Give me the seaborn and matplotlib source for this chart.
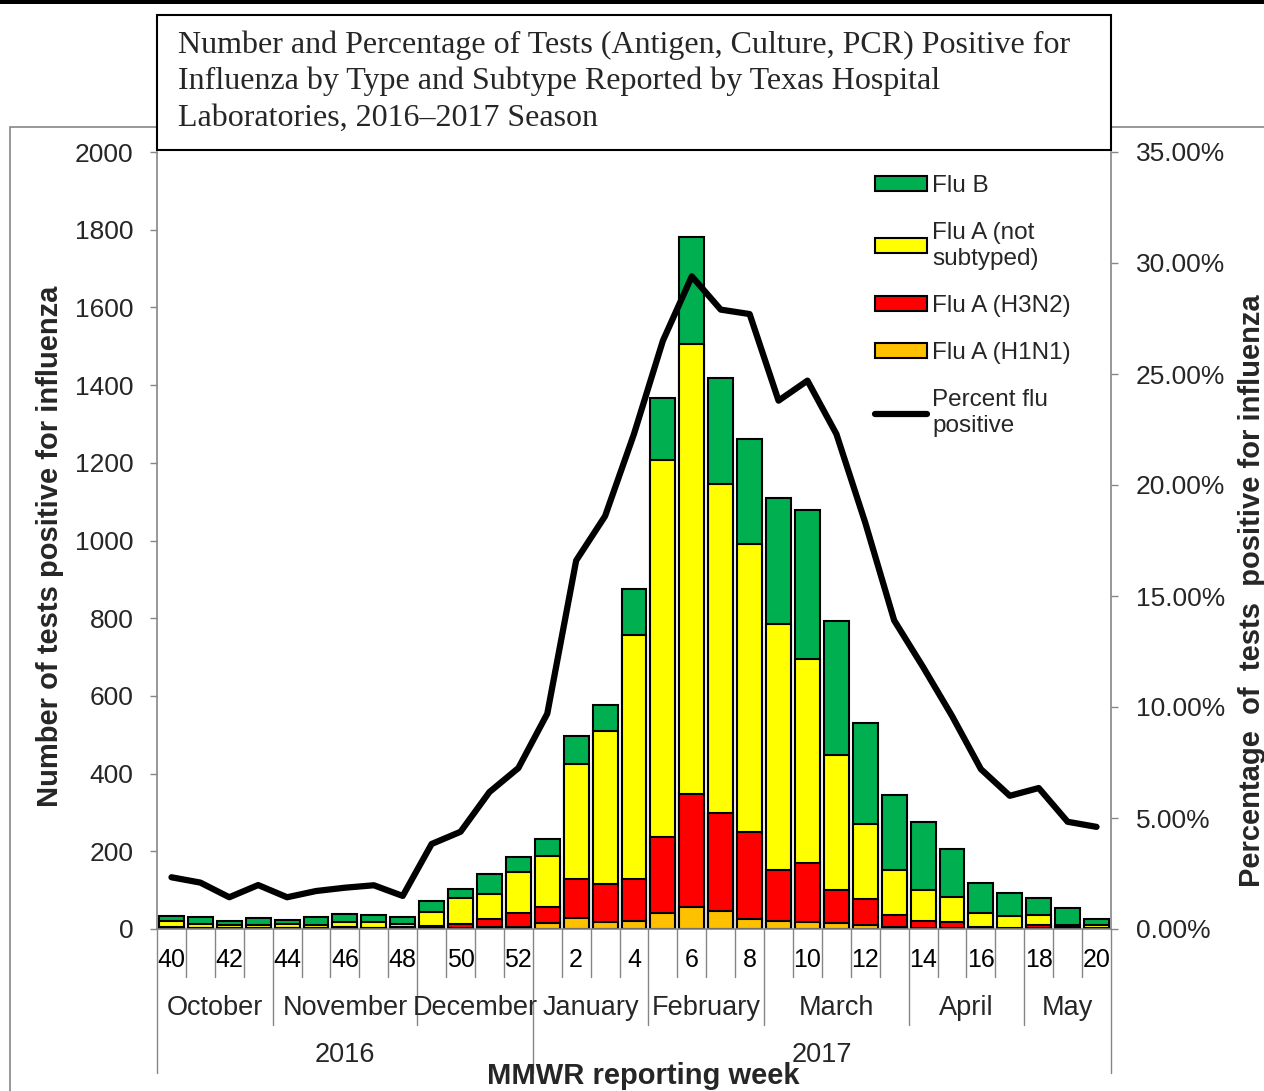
import numpy as np
import pandas as pd
import matplotlib
matplotlib.use("Agg")
import matplotlib.pyplot as plt
import seaborn as sns
from matplotlib.patches import Patch, Rectangle
from matplotlib.lines import Line2D
from matplotlib.ticker import FuncFormatter

# MMWR weeks, 2016-40 .. 2017-20
weeks = ["40", "41", "42", "43", "44", "45", "46", "47", "48", "49", "50", "51", "52",
         "1", "2", "3", "4", "5", "6", "7", "8", "9", "10", "11", "12", "13", "14",
         "15", "16", "17", "18", "19", "20"]
h1n1 = [3, 2, 2, 2, 2, 2, 2, 2, 2, 2, 3, 5, 5,
        15, 29, 19, 21, 42, 57, 46, 26, 21, 18, 16, 10, 6, 3, 2, 2, 1, 2, 1, 1]
h3n2 = [2, 1, 1, 1, 1, 1, 2, 1, 3, 7, 10, 22, 35,
        42, 100, 98, 107, 195, 290, 252, 224, 131, 153, 84, 68, 29, 18, 17, 4, 2, 8, 4, 1]
not_subtyped = [15, 9, 7, 7, 9, 8, 15, 16, 9, 36, 67, 63, 106,
                131, 296, 393, 628, 971, 1160, 848, 741, 633, 524, 347, 192, 117, 79, 63, 36, 30, 25, 6, 8]
flu_b = [14, 18, 10, 19, 10, 19, 19, 17, 18, 28, 24, 52, 39,
         43, 73, 67, 119, 159, 275, 273, 270, 324, 384, 346, 260, 193, 175, 125, 76, 59, 45, 44, 17]
pct_positive = [2.33, 2.09, 1.43, 1.98, 1.43, 1.71, 1.86, 1.97, 1.49, 3.83, 4.38, 6.17, 7.25,
                9.7, 16.6, 18.6, 22.3, 26.5, 29.4, 27.9, 27.7, 23.8, 24.7, 22.3, 18.3, 13.9,
                11.8, 9.6, 7.2, 6.0, 6.35, 4.83, 4.6]

months = ["October", "November", "December", "January", "February", "March", "April", "May"]
month_sizes = [4, 5, 4, 4, 4, 5, 4, 3]
years = ["2016", "2017"]
year_sizes = [13, 20]

title = ("Number and Percentage of Tests (Antigen, Culture, PCR) Positive for\n"
         "Influenza by Type and Subtype Reported by Texas Hospital\n"
         "Laboratories, 2016\u20132017 Season")

c_b, c_ns, c_h3, c_h1 = "#00B050", "#FFFF00", "#FF0000", "#FFC000"
gray = "#868686"

sns.set_theme(style="white")
plt.rcParams['font.family'] = ['Liberation Sans', 'DejaVu Sans']

df = pd.DataFrame({"week": weeks, "h1n1": h1n1, "h3n2": h3n2,
                   "ns": not_subtyped, "b": flu_b})
df["lvl1"] = df["h1n1"]
df["lvl2"] = df["lvl1"] + df["h3n2"]
df["lvl3"] = df["lvl2"] + df["ns"]
df["lvl4"] = df["lvl3"] + df["b"]

W, H = 1264, 1091
fig = plt.figure(figsize=(W / 100, H / 100), dpi=100)
ax = fig.add_axes([157 / W, 1 - 929 / H, (1111 - 157) / W, (929 - 152) / H])

# stacked bars drawn back to front
for col, color in [("lvl4", c_b), ("lvl3", c_ns), ("lvl2", c_h3), ("lvl1", c_h1)]:
    sns.barplot(data=df, x="week", y=col, order=weeks, color=color, saturation=1,
                edgecolor="black", linewidth=1.5, width=0.86, errorbar=None, ax=ax)

ax.set_ylim(0, 2000)
ax.set_yticks(np.arange(0, 2001, 200))
ax.set_xlim(-0.5, len(weeks) - 0.5)
ax.set_xlabel("")
ax.set_ylabel("")
ax.set_xticks(range(len(weeks)))
ax.set_xticklabels([w if i % 2 == 0 else "" for i, w in enumerate(weeks)])
ax.tick_params(axis="x", length=0, pad=14, labelsize=18, colors="black")
ax.tick_params(axis="y", left=True, direction="out", length=5, width=1, color=gray,
               labelsize=19, pad=12)
for s in ["top", "right"]:
    ax.spines[s].set_visible(False)
for s in ["left", "bottom"]:
    ax.spines[s].set_color(gray)
    ax.spines[s].set_linewidth(1.2)

ax2 = ax.twinx()
sns.lineplot(x=np.arange(len(weeks)), y=np.array(pct_positive) / 100, ax=ax2,
             color="black", linewidth=4.5)
ax2.set_ylim(0, 0.35)
ax2.set_yticks(np.arange(0, 0.351, 0.05))
ax2.yaxis.set_major_formatter(FuncFormatter(lambda v, p: f"{v * 100:.2f}%"))
ax2.set_xlim(-0.5, len(weeks) - 0.5)
ax2.set_ylabel("")
ax2.tick_params(axis="y", right=True, direction="out", length=5, width=1, color=gray,
                labelsize=19, pad=13)
for s in ["top", "left", "bottom"]:
    ax2.spines[s].set_visible(False)
ax2.spines["right"].set_color(gray)
ax2.spines["right"].set_linewidth(1.2)

# multi-level category axis
tr = ax.get_xaxis_transform()
month_edges = np.cumsum(month_sizes)
for i in range(len(weeks) + 1):
    if i in (0, len(weeks), year_sizes[0]):
        y_end = -0.1853
    elif i in month_edges:
        y_end = -0.1236
    else:
        y_end = -0.0618
    ax.plot([i - 0.5, i - 0.5], [0, y_end], transform=tr, clip_on=False,
            color=gray, linewidth=1)

start = 0
for name, n in zip(months, month_sizes):
    ax.text(start + n / 2 - 0.5, -0.1017, name, transform=tr, ha="center",
            va="center", fontsize=19.5)
    start += n
start = 0
for name, n in zip(years, year_sizes):
    ax.text(start + n / 2 - 0.5, -0.162, name, transform=tr, ha="center",
            va="center", fontsize=19.5)
    start += n

# legend
handles = [Patch(facecolor=c_b, edgecolor="black", linewidth=1.5),
           Patch(facecolor=c_ns, edgecolor="black", linewidth=1.5),
           Patch(facecolor=c_h3, edgecolor="black", linewidth=1.5),
           Patch(facecolor=c_h1, edgecolor="black", linewidth=1.5),
           Line2D([], [], color="black", linewidth=4.5)]
labels = ["Flu B", "Flu A (not\nsubtyped)", "Flu A (H3N2)", "Flu A (H1N1)",
          "Percent flu\npositive"]
ax2.legend(handles, labels, loc="upper left", bbox_to_anchor=(0.7526, 0.9706),
           frameon=False, fontsize=17.5, handlelength=2.15, handleheight=0.55,
           handletextpad=0.2, labelspacing=1.04, borderpad=0, borderaxespad=0)

# axis titles
fig.text(50 / W, 1 - 546 / H, "Number of tests positive for influenza", rotation=90,
         ha="center", va="center", fontsize=21, fontweight="bold")
fig.text(1252 / W, 1 - 591 / H, "Percentage  of  tests  positive for influenza",
         rotation=90, ha="center", va="center", fontsize=21, fontweight="bold")
fig.text(643 / W, 1 - 1076 / H, "MMWR reporting week", ha="center", va="center",
         fontsize=21, fontweight="bold")

# chart frame, top rule and title box
fig.patches.append(Rectangle((10 / W, -0.02), 1.2, 0.02 + 1 - 127 / H,
                             transform=fig.transFigure, fill=False,
                             edgecolor=gray, linewidth=1.2, zorder=0))
fig.patches.append(Rectangle((0, 1 - 4 / H), 1, 4 / H, transform=fig.transFigure,
                             facecolor="black", edgecolor="none", zorder=3))
fig.patches.append(Rectangle((157 / W, 1 - 150 / H), (1111 - 157) / W, 135 / H,
                             transform=fig.transFigure, facecolor="white",
                             edgecolor="black", linewidth=1.5, zorder=3))
fig.text(178 / W, 1 - 30 / H, title, ha="left", va="top", fontsize=23,
         family="Liberation Serif", linespacing=1.33, zorder=4)

fig.savefig("out.png", dpi=100)
